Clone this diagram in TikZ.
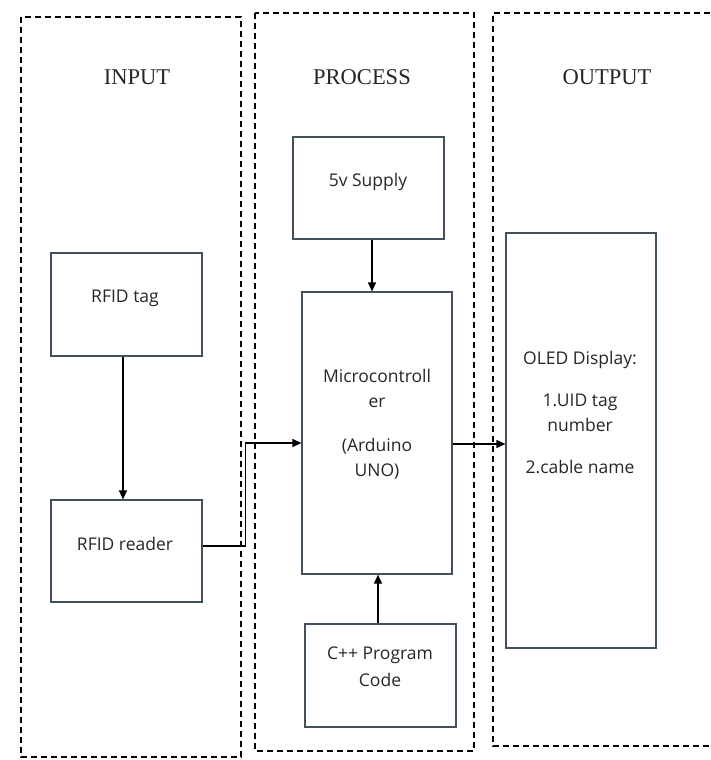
\documentclass[tikz,border=0pt]{standalone}
\usepackage{fontspec}
\setmainfont{Liberation Serif}
\newfontfamily\boxfont{Open Sans}
\usetikzlibrary{arrows.meta}
\definecolor{boxline}{HTML}{44505E}
\tikzset{
  frame/.style={draw=black, line width=1.4pt, dash pattern=on 6pt off 4pt},
  box/.style={draw=boxline, line width=1.2pt, rectangle, inner sep=0pt},
  lbl/.style={font=\boxfont\fontsize{17.5}{25}\selectfont, text=black!85, align=center, inner sep=0pt},
  ttl/.style={font=\fontsize{22.5}{25}\selectfont, text=black!85, inner sep=0pt},
  arr/.style={draw=black, line width=1.3pt, -{Triangle[length=9pt,width=8pt]}}
}
\begin{document}
\begin{tikzpicture}[x=1pt, y=-1pt]
\useasboundingbox (0,0) rectangle (710,760);
% dashed frames
\draw[frame] (21,17) rectangle (241,757);
\draw[frame] (255,13) rectangle (474,751);
\draw[frame] (710,13) -- (493,13) -- (493,746) -- (710,746);
% titles
\node[ttl] (tin) at (137,77) {INPUT};
\node[ttl] (tpr) at (362,77) {PROCESS};
\node[ttl] (tout) at (607,77) {OUTPUT};
% boxes
\node[box, minimum width=151pt, minimum height=103pt] (tag) at (126.5,304.5) {};
\node[box, minimum width=151pt, minimum height=102pt] (reader) at (126.5,551) {};
\node[box, minimum width=151pt, minimum height=102pt] (supply) at (368.5,188) {};
\node[box, minimum width=150pt, minimum height=282pt] (micro) at (377,433) {};
\node[box, minimum width=151pt, minimum height=103pt] (code) at (380.5,675.5) {};
\node[box, minimum width=150pt, minimum height=415pt] (oled) at (581,440.5) {};
% labels
\node[lbl] (tagt) at (125,298) {RFID tag};
\node[lbl] (readert) at (125,544) {RFID reader};
\node[lbl] (supplyt) at (368,182) {5v Supply};
\node[lbl] (microt) at (377,424) {Microcontroll\\er\\[19pt](Arduino\\UNO)};
\node[lbl] (codet) at (380,667) {C++ Program\\[2pt]Code};
\node[lbl] (oledt) at (580,412) {OLED Display:\\[17pt]1.UID tag\\number\\[17pt]2.cable name};
% connectors
\draw[arr] ([xshift=-3.5pt]tag.south) -- ([xshift=-3.5pt]reader.north);
\draw[arr] ([yshift=5pt]reader.east) -- ++(43,0) |- ([yshift=-10pt]micro.west);
\draw[arr] ([xshift=3.5pt]supply.south) -- ([xshift=-5pt]micro.north);
\draw[arr] ([xshift=-2.5pt]code.north) -- ([xshift=1pt]micro.south);
\draw[arr] ([yshift=-11pt]micro.east) -- ([yshift=-3.5pt]oled.west);
\end{tikzpicture}
\end{document}
